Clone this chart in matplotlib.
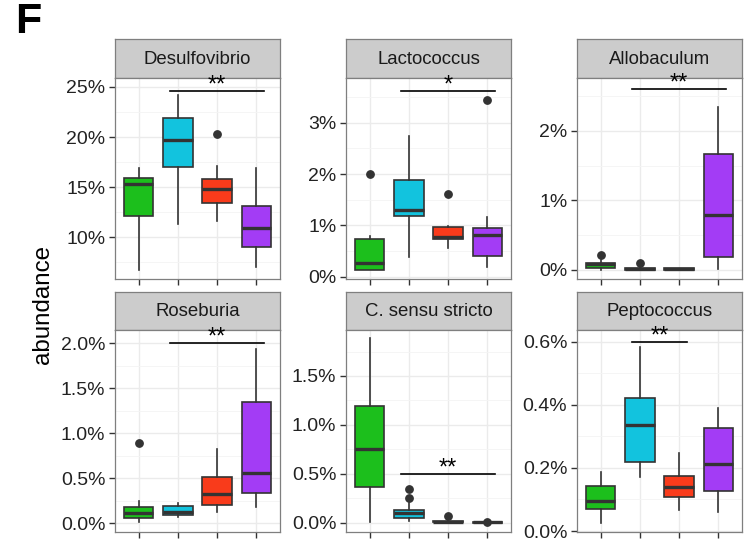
import matplotlib
matplotlib.use("Agg")
import matplotlib.pyplot as plt
from matplotlib.ticker import FixedLocator, AutoMinorLocator, FuncFormatter

plt.rcParams['font.family'] = ['Liberation Sans', 'DejaVu Sans']

# facet titles and groups
genera = ["Desulfovibrio", "Lactococcus", "Allobaculum",
          "Roseburia", "C. sensu stricto", "Peptococcus"]
groups = [1, 2, 3, 4]
colors = ["#1cbf1c", "#12c3de", "#f93b1b", "#a33cf5"]

# box stats per genus (values in %), one entry per group
whislo = [[6.7, 11.3, 11.6, 6.97],
          [0.13, 0.39, 0.55, 0.19],
          [0.0, 0.0, 0.0, 0.01],
          [0.02, 0.067, 0.13, 0.18],
          [0.01, 0.02, 0.0, 0.0],
          [0.027, 0.17, 0.067, 0.059]]
q1 = [[12.1, 17.0, 13.43, 8.97],
      [0.14, 1.19, 0.73, 0.41],
      [0.035, 0.005, 0.005, 0.18],
      [0.055, 0.092, 0.2, 0.34],
      [0.36, 0.045, 0.003, 0.0],
      [0.069, 0.22, 0.107, 0.127]]
med = [[15.3, 19.7, 14.77, 10.87],
       [0.26, 1.29, 0.77, 0.81],
       [0.08, 0.012, 0.012, 0.79],
       [0.11, 0.122, 0.33, 0.56],
       [0.75, 0.095, 0.008, 0.003],
       [0.095, 0.336, 0.138, 0.214]]
q3 = [[15.87, 21.87, 15.8, 13.1],
      [0.73, 1.88, 0.96, 0.94],
      [0.105, 0.03, 0.025, 1.67],
      [0.185, 0.196, 0.51, 1.35],
      [1.19, 0.13, 0.02, 0.008],
      [0.143, 0.42, 0.175, 0.325]]
whishi = [[16.9, 24.2, 17.1, 16.9],
          [0.79, 2.74, 0.99, 1.17],
          [0.14, 0.05, 0.035, 2.34],
          [0.25, 0.23, 0.83, 1.94],
          [1.885, 0.2, 0.03, 0.012],
          [0.186, 0.584, 0.246, 0.391]]
fliers = [[[], [], [20.27], []],
          [[2.0], [], [1.61], [3.44]],
          [[0.22], [0.095], [], []],
          [[0.896], [], [], []],
          [[], [0.25, 0.34], [0.07], [0.005]],
          [[], [], [], []]]

# significance brackets
sig_x = [(1.8, 4.2), (1.8, 4.2), (1.8, 4.2), (1.8, 4.2), (1.8, 4.2), (1.8, 3.2)]
sig_y = [24.6, 3.62, 2.6, 2.0, 0.5, 0.6]
sig_txt = ["**", "*", "**", "**", "**", "**"]

yticks = [[10, 15, 20, 25], [0, 1, 2, 3], [0, 1, 2],
          [0, 0.5, 1.0, 1.5, 2.0], [0, 0.5, 1.0, 1.5], [0, 0.2, 0.4, 0.6]]
ylims = [(5.8, 25.9), (-0.045, 3.87), (-0.13, 2.76),
         (-0.096, 2.148), (-0.095, 1.97), (-0.003, 0.637)]
ydec = [0, 0, 0, 1, 1, 1]

W, H = 752, 544
fig = plt.figure(figsize=(W / 100, H / 100), dpi=100)

xs = [115, 346, 577]
pw = 165
rows = [(39, 78, 279), (292, 330, 532)]


def fig_rect(x0, y0, x1, y1):
    return [x0 / W, 1 - y1 / H, (x1 - x0) / W, (y1 - y0) / H]


edge = "#333333"
for i, name in enumerate(genera):
    r, c = divmod(i, 3)
    st, top, bot = rows[r]
    x0 = xs[c]

    # strip first so the stars can sit on top of it
    sax = fig.add_axes(fig_rect(x0, st, x0 + pw, top))
    sax.set_facecolor("#cccccc")
    sax.set_xticks([])
    sax.set_yticks([])
    for s in sax.spines.values():
        s.set_color("#7f7f7f")
        s.set_linewidth(0.9)
    sax.text(0.5, 0.48, name, ha="center", va="center", fontsize=13.4,
             color="#1a1a1a", transform=sax.transAxes)

    ax = fig.add_axes(fig_rect(x0, top, x0 + pw, bot))
    stats = []
    for j in range(4):
        stats.append(dict(whislo=whislo[i][j], q1=q1[i][j], med=med[i][j],
                          q3=q3[i][j], whishi=whishi[i][j], fliers=fliers[i][j]))
    b = ax.bxp(stats, positions=groups, widths=0.75, patch_artist=True,
               showcaps=False,
               boxprops=dict(edgecolor=edge, linewidth=1.2),
               whiskerprops=dict(color=edge, linewidth=1.2),
               medianprops=dict(color=edge, linewidth=2.4),
               flierprops=dict(marker="o", markerfacecolor=edge,
                               markeredgecolor=edge, markersize=5.3))
    for patch, col in zip(b["boxes"], colors):
        patch.set_facecolor(col)
    for k in b["boxes"] + b["whiskers"] + b["medians"] + b["fliers"]:
        k.set_zorder(3)

    ax.plot(sig_x[i], [sig_y[i], sig_y[i]], color="black", linewidth=1.2, zorder=4)
    ax.annotate(sig_txt[i], xy=(sum(sig_x[i]) / 2, sig_y[i]), xytext=(0, -4),
                textcoords="offset points", ha="center", va="bottom",
                fontsize=17, zorder=4)

    ax.set_xlim(0.4, 4.6)
    ax.set_ylim(*ylims[i])
    ax.set_xticks(groups)
    ax.set_xticklabels([])
    ax.yaxis.set_major_locator(FixedLocator(yticks[i]))
    ax.yaxis.set_minor_locator(AutoMinorLocator(2))
    d = ydec[i]
    ax.yaxis.set_major_formatter(FuncFormatter(lambda v, p, d=d: f"{v:.{d}f}%"))
    ax.tick_params(axis="both", which="major", length=4, width=1.0,
                   color="#333333", labelsize=14, labelcolor="#222222", pad=3)
    ax.tick_params(axis="y", which="minor", length=0)
    ax.grid(True, which="major", color="#ebebeb", linewidth=1.0, zorder=0)
    ax.grid(True, which="minor", axis="y", color="#f4f4f4", linewidth=0.6, zorder=0)
    ax.set_axisbelow(True)
    for s in ax.spines.values():
        s.set_color("#7f7f7f")
        s.set_linewidth(0.9)

fig.text(43 / W, 1 - 304 / H, "abundance", rotation=90, ha="center", va="center",
         fontsize=17.4)
fig.text(15 / W, 1 - 22 / H, "F", fontsize=31, fontweight="bold",
         ha="left", va="center")

fig.savefig("out.png", dpi=100)
